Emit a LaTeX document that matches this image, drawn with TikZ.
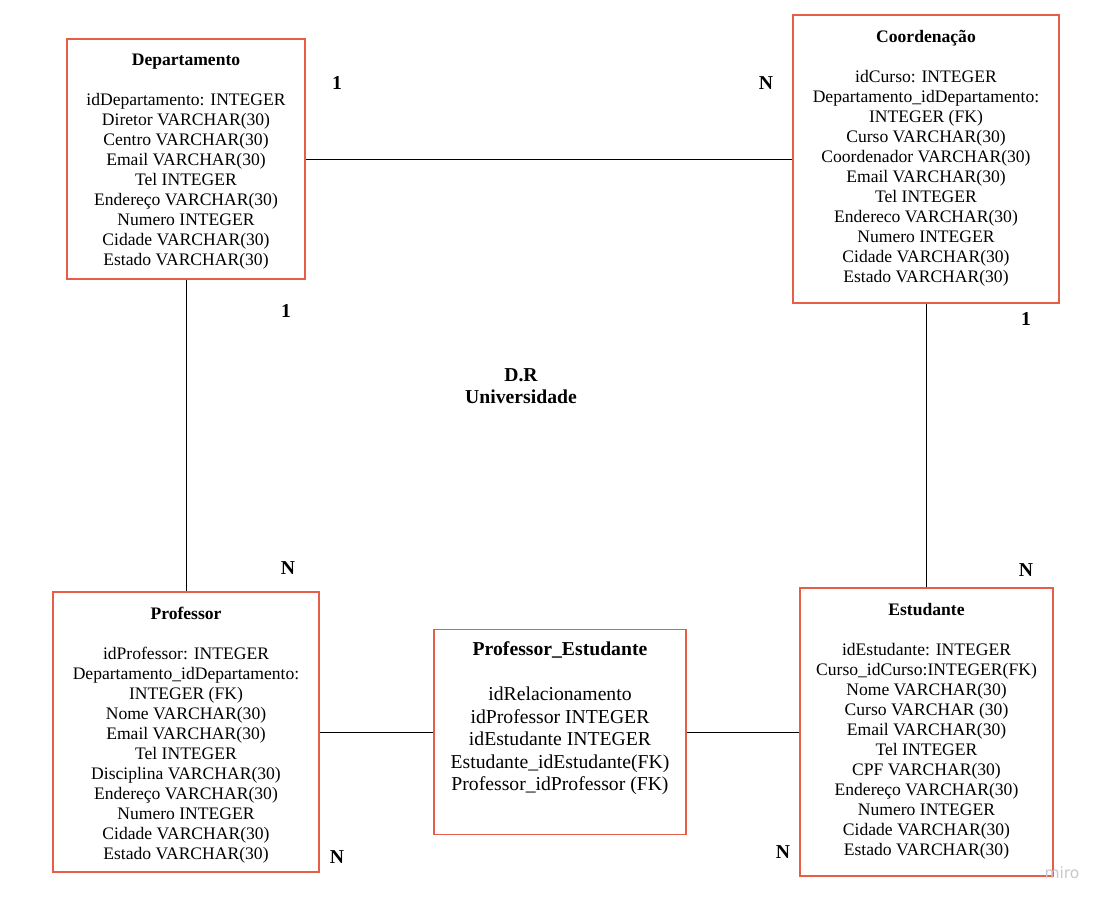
\documentclass[tikz,border=0pt]{standalone}
\usepackage{fontspec}
\setmainfont{Liberation Serif}
\newfontfamily\wmfont{DejaVu Sans}
\usetikzlibrary{positioning}
\definecolor{boxred}{RGB}{232,93,70}
\definecolor{wmgray}{RGB}{200,200,206}
\tikzset{
  entity/.style={draw=boxred, line width=1.1pt, fill=white, inner sep=0pt},
  attrs/.style={align=center, inner sep=0pt, font=\fontsize{12.5}{14.2}\selectfont},
  bigattrs/.style={align=center, inner sep=0pt, font=\fontsize{14}{16}\selectfont},
  card/.style={inner sep=0pt, font=\fontsize{14}{16}\selectfont\bfseries},
  rel/.style={line width=0.7pt}
}

\begin{document}
\begin{tikzpicture}[x=0.025cm,y=-0.025cm]
	\useasboundingbox (0,0) rectangle (1104,905);
	% tabelas
	\node[entity, minimum width=5.95cm, minimum height=6cm] (dep) at (186,159) {};
	\node[entity, minimum width=6.65cm, minimum height=7.2cm] (coord) at (926,159) {};
	\node[entity, minimum width=6.65cm, minimum height=7cm] (prof) at (186,732) {};
	\node[entity, minimum width=6.3cm, minimum height=5.125cm] (pe) at (560,732) {};
	\node[entity, minimum width=6.325cm, minimum height=7.2cm] (est) at (926.5,732) {};
	% campos
	\node[attrs, below=0.385cm of dep.north] (deptxt) {\textbf{Departamento}\\[14.2pt]
		idDepartamento: INTEGER\\ Diretor VARCHAR(30)\\ Centro VARCHAR(30)\\ Email VARCHAR(30)\\
		Tel INTEGER\\ Endereço VARCHAR(30)\\ Numero INTEGER\\ Cidade VARCHAR(30)\\ Estado VARCHAR(30)};
	\node[attrs, below=0.4cm of coord.north] (coordtxt) {\textbf{Coordenação}\\[14.2pt]
		idCurso: INTEGER\\ Departamento\_idDepartamento:\\ INTEGER (FK)\\ Curso VARCHAR(30)\\
		Coordenador VARCHAR(30)\\ Email VARCHAR(30)\\ Tel INTEGER\\ Endereco VARCHAR(30)\\
		Numero INTEGER\\ Cidade VARCHAR(30)\\ Estado VARCHAR(30)};
	\node[attrs, below=0.4cm of prof.north] (proftxt) {\textbf{Professor}\\[14.2pt]
		idProfessor: INTEGER\\ Departamento\_idDepartamento:\\ INTEGER (FK)\\ Nome VARCHAR(30)\\
		Email VARCHAR(30)\\ Tel INTEGER\\ Disciplina VARCHAR(30)\\ Endereço VARCHAR(30)\\
		Numero INTEGER\\ Cidade VARCHAR(30)\\ Estado VARCHAR(30)};
	\node[bigattrs, below=0.32cm of pe.north] (petxt) {\textbf{Professor\_Estudante}\\[16pt]
		idRelacionamento\\ idProfessor INTEGER\\ idEstudante INTEGER\\
		Estudante\_idEstudante(FK)\\ Professor\_idProfessor (FK)};
	\node[attrs, below=0.4cm of est.north] (esttxt) {\textbf{Estudante}\\[14.2pt]
		idEstudante: INTEGER\\ Curso\_idCurso:INTEGER(FK)\\ Nome VARCHAR(30)\\ Curso VARCHAR (30)\\
		Email VARCHAR(30)\\ Tel INTEGER\\ CPF VARCHAR(30)\\ Endereço VARCHAR(30)\\
		Numero INTEGER\\ Cidade VARCHAR(30)\\ Estado VARCHAR(30)};
	% relacionamentos
	\draw[rel] (dep.east) -- (coord.west);
	\draw[rel] (dep.south) -- (prof.north);
	\draw[rel] (coord.south) -- (coord.south |- est.north);
	\draw[rel] (prof.east) -- (pe.west);
	\draw[rel] (pe.east) -- (est.west);
	% cardinalidades
	\node[card] (c1) at (337,83) {1};
	\node[card] (c2) at (766,83) {N};
	\node[card] (c3) at (286,311) {1};
	\node[card] (c4) at (288,568) {N};
	\node[card] (c5) at (1026,319) {1};
	\node[card] (c6) at (1026,570) {N};
	\node[card] (c7) at (337,857) {N};
	\node[card] (c8) at (783,852) {N};
	% titulo
	\node[card, align=center] (titulo) at (521,386) {D.R\\ Universidade};
	\node[inner sep=0pt, text=wmgray, font=\wmfont\fontsize{11}{12}\selectfont] (miro) at (1062,873) {miro};
\end{tikzpicture}
\end{document}
